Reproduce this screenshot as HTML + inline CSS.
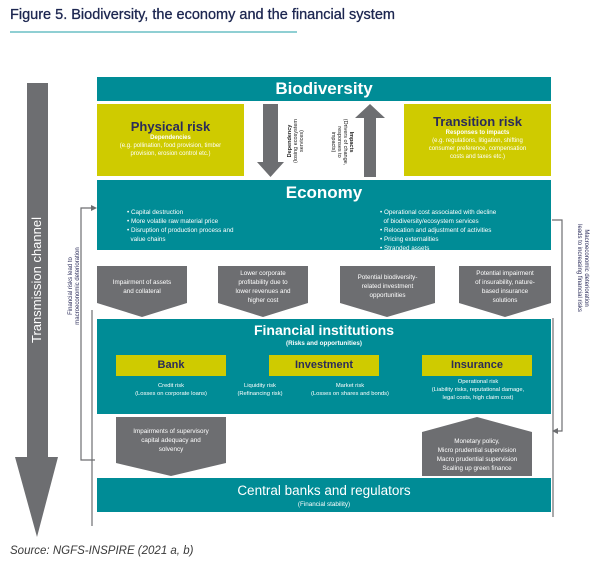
<!DOCTYPE html>
<html><head><meta charset="utf-8"><style>
*{margin:0;padding:0;box-sizing:border-box}
body{width:602px;height:572px;background:#fff;font-family:"Liberation Sans",sans-serif;position:relative;overflow:hidden}
.a{position:absolute}
.teal{background:#008c96;color:#fff;text-align:center}
.yel{background:#cfcb00;text-align:center;color:#fff}
.c{text-align:center}
.rot{position:absolute;transform-origin:center;white-space:nowrap;text-align:center}
.w{color:#fff}
</style></head><body>
<div class="a" style="left:10px;top:7px;font-size:14.5px;color:#1c2650;-webkit-text-stroke:0.3px #1c2650">Figure 5. Biodiversity, the economy and the financial system</div>
<div class="a" style="left:10px;top:31px;width:287px;height:2px;background:#8fcfd3"></div>

<svg class="a" style="left:0;top:0" width="602" height="572">
 <polygon points="27,83 48,83 48,457 58,457 37,537 15,457 27,457" fill="#6d6e71"/>
 <polygon points="263,104 278,104 278,162 284,162 270.5,177 257,162 263,162" fill="#6d6e71"/>
 <polygon points="364,177 376,177 376,118 385,118 370,104 355,118 364,118" fill="#6d6e71"/>
 <polygon points="97,266 187,266 187,303 142,317 97,303" fill="#6d6e71"/>
 <polygon points="218,266 308,266 308,303 263,317 218,303" fill="#6d6e71"/>
 <polygon points="340,266 435,266 435,303 387,317 340,303" fill="#6d6e71"/>
 <polygon points="459,266 551,266 551,303 505,317 459,303" fill="#6d6e71"/>
 <polygon points="116,417 226,417 226,463 171,476 116,463" fill="#6d6e71"/>
 <polygon points="422,432 477,417 532,432 532,476 422,476" fill="#6d6e71"/>
 <polyline points="95,460 81,460 81,208 95,208" fill="none" stroke="#6d6e71" stroke-width="1.2"/>
 <polygon points="97,208 91,205 91,211" fill="#6d6e71"/>
 <line x1="92" y1="310" x2="92" y2="526" stroke="#6d6e71" stroke-width="1.2"/>
 <polyline points="552,220 562,220 562,431 554,431" fill="none" stroke="#6d6e71" stroke-width="1.2"/>
 <polygon points="552,431 558,428 558,434" fill="#6d6e71"/>
 <line x1="553" y1="318" x2="553" y2="517" stroke="#6d6e71" stroke-width="1.2"/>
</svg>

<div class="rot w" style="left:-36px;top:272px;width:146px;height:16px;font-size:13px;transform:rotate(-90deg)">Transmission channel</div>
<div class="rot" style="left:20px;top:279px;width:110px;font-size:6px;line-height:7px;color:#2b2c5a;transform:rotate(-90deg)">Financial risks lead to<br>macroeconomic deterioration</div>
<div class="rot" style="left:527px;top:261px;width:110px;font-size:6px;line-height:7px;color:#2b2c5a;transform:rotate(90deg)">Macroeconomic deterioration<br>leads to increasing financial risks</div>

<div class="a teal" style="left:97px;top:77px;width:454px;height:24px;font-size:17px;font-weight:bold;line-height:24px">Biodiversity</div>
<div class="a yel" style="left:97px;top:104px;width:147px;height:72px;padding-top:15px">
 <div style="font-size:13px;font-weight:bold;color:#2b2c5a">Physical risk</div>
 <div style="font-size:6px;line-height:8px;font-weight:bold">Dependencies</div>
 <div style="font-size:6px;line-height:8px">(e.g. pollination, food provision, timber<br>provision, erosion control etc.)</div>
</div>
<div class="a yel" style="left:404px;top:104px;width:147px;height:72px;padding-top:10px">
 <div style="font-size:13px;font-weight:bold;color:#2b2c5a">Transition risk</div>
 <div style="font-size:6px;line-height:8px;font-weight:bold">Responses to impacts</div>
 <div style="font-size:6px;line-height:8px">(e.g. regulations, litigation, shifting<br>consumer preference, compensation<br>costs and taxes etc.)</div>
</div>
<div class="rot" style="left:268px;top:132px;width:56px;font-size:5.5px;line-height:6px;color:#222;transform:rotate(-90deg)"><b>Dependency</b><br>(losing ecosystem<br>services)</div>
<div class="rot" style="left:314px;top:130px;width:56px;font-size:5.5px;line-height:6px;color:#222;transform:rotate(90deg)"><b>Impacts</b><br>(Drivers of change,<br>responses to<br>impacts)</div>

<div class="a teal" style="left:97px;top:180px;width:454px;height:70px">
 <div style="font-size:17px;font-weight:bold;line-height:24px;margin-top:1px">Economy</div>
 <div class="a" style="left:30px;top:28px;text-align:left;font-size:6.3px;line-height:9px">• Capital destruction<br>• More volatile raw material price<br>• Disruption of production process and<br>&nbsp;&nbsp;value chains</div>
 <div class="a" style="left:283px;top:28px;text-align:left;font-size:6.3px;line-height:9px;white-space:nowrap">• Operational cost associated with decline<br>&nbsp;&nbsp;of biodiversity/ecosystem services<br>• Relocation and adjustment of activities<br>• Pricing externalities<br>• Stranded assets</div>
</div>
<div class="a c w" style="left:97px;top:278px;width:90px;font-size:6.3px;line-height:9px">Impairment of assets<br>and collateral</div>
<div class="a c w" style="left:218px;top:269px;width:90px;font-size:6.3px;line-height:9px">Lower corporate<br>profitability due to<br>lower revenues and<br>higher cost</div>
<div class="a c w" style="left:340px;top:273px;width:95px;font-size:6.3px;line-height:9px">Potential biodiversity-<br>related investment<br>opportunities</div>
<div class="a c w" style="left:459px;top:269px;width:92px;font-size:6.3px;line-height:9px">Potential impairment<br>of insurability, nature-<br>based insurance<br>solutions</div>

<div class="a teal" style="left:97px;top:319px;width:454px;height:95px">
 <div style="font-size:14px;font-weight:bold;line-height:20px;margin-top:1px">Financial institutions</div>
 <div style="font-size:6.3px;font-weight:bold;line-height:8px">(Risks and opportunities)</div>
</div>
<div class="a yel" style="left:116px;top:355px;width:110px;height:21px;font-size:11px;font-weight:bold;color:#2b2c5a;line-height:21px">Bank</div>
<div class="a yel" style="left:269px;top:355px;width:110px;height:21px;font-size:11px;font-weight:bold;color:#2b2c5a;line-height:21px">Investment</div>
<div class="a yel" style="left:422px;top:355px;width:110px;height:21px;font-size:11px;font-weight:bold;color:#2b2c5a;line-height:21px">Insurance</div>
<div class="a c w" style="left:116px;top:382px;width:110px;font-size:5.8px;line-height:8px">Credit risk<br>(Losses on corporate loans)</div>
<div class="a c w" style="left:225px;top:382px;width:70px;font-size:5.8px;line-height:8px">Liquidity risk<br>(Refinancing risk)</div>
<div class="a c w" style="left:295px;top:382px;width:110px;font-size:5.8px;line-height:8px">Market risk<br>(Losses on shares and bonds)</div>
<div class="a c w" style="left:408px;top:378px;width:140px;font-size:5.8px;line-height:8px">Operational risk<br>(Liability risks, reputational damage,<br>legal costs, high claim cost)</div>
<div class="a c w" style="left:116px;top:427px;width:110px;font-size:6.3px;line-height:9px">Impairments of supervisory<br>capital adequacy and<br>solvency</div>
<div class="a c w" style="left:422px;top:437px;width:110px;font-size:6.3px;line-height:9px">Monetary policy,<br>Micro prudential supervision<br>Macro prudential supervision<br>Scaling up green finance</div>

<div class="a teal" style="left:97px;top:478px;width:454px;height:34px">
 <div style="font-size:13.5px;line-height:20px;margin-top:3px">Central banks and regulators</div>
 <div style="font-size:6.3px;line-height:8px">(Financial stability)</div>
</div>
<div class="a" style="left:10px;top:545px;font-size:11.5px;font-style:italic;color:#3a3a3a">Source: NGFS-INSPIRE (2021 a, b)</div>
</body></html>
